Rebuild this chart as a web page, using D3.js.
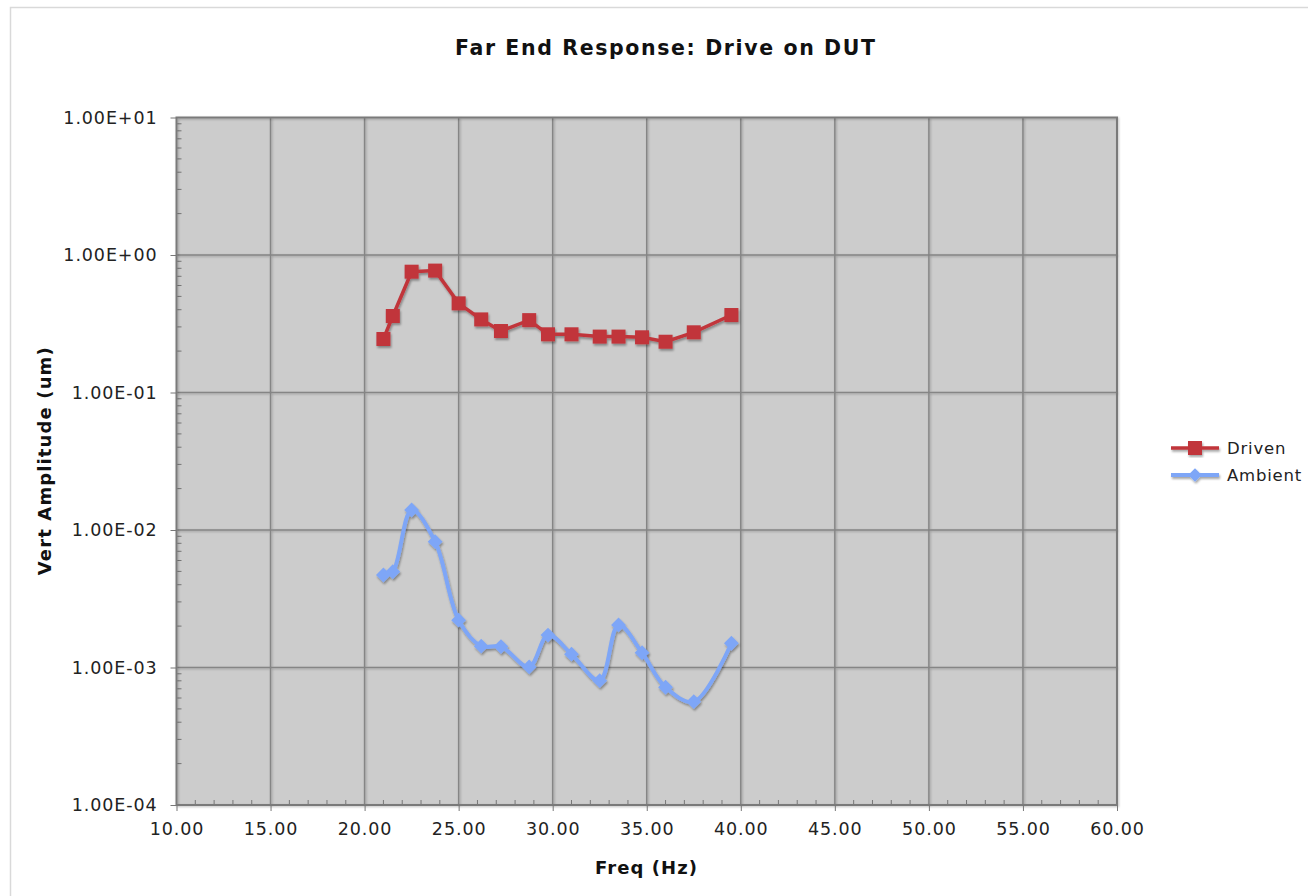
<!DOCTYPE html>
<html><head><meta charset="utf-8">
<script src="https://cdn.jsdelivr.net/npm/d3@7"></script>
<style>
html,body{margin:0;padding:0;background:#fff;}
svg{display:block;font-family:"DejaVu Sans",Verdana,sans-serif;}
</style></head>
<body><svg id="chart" width="1308" height="896"></svg>
<script>
const freq = [21.0, 21.5, 22.5, 23.75, 25.0, 26.2, 27.25, 28.75, 29.75, 31.0, 32.5, 33.5, 34.75, 36.0, 37.5, 39.5];
const driven = [0.245, 0.36, 0.756, 0.77, 0.445, 0.34, 0.28, 0.336, 0.265, 0.265, 0.255, 0.255, 0.252, 0.234, 0.274, 0.366];
const ambient = [0.00471, 0.00497, 0.01397, 0.00822, 0.00221, 0.00143, 0.00142, 0.00101, 0.00172, 0.00125, 0.000802, 0.00204, 0.00128, 0.000718, 0.000564, 0.0015];
const xTicks = [10, 15, 20, 25, 30, 35, 40, 45, 50, 55, 60];
const yTicks = [1e-4, 1e-3, 1e-2, 1e-1, 1, 10];
const yTickLabels = ["1.00E-04", "1.00E-03", "1.00E-02", "1.00E-01", "1.00E+00", "1.00E+01"];
const seriesNames = ["Driven", "Ambient"];
const seriesColors = ["#c1353b", "#7ea6f7"];

const svg = d3.select("#chart");
const L = 176.5, R = 1117, T = 117.5, B = 805;
const x = d3.scaleLinear().domain([10, 60]).range([L, R]);
const y = d3.scaleLog().domain([1e-4, 10]).range([B, T]);

const defs = svg.append("defs");
const f = defs.append("filter").attr("id", "sh").attr("x", "-20%").attr("y", "-20%").attr("width", "140%").attr("height", "140%");
f.append("feDropShadow").attr("dx", 1).attr("dy", 2).attr("stdDeviation", 1.2).attr("flood-color", "#000").attr("flood-opacity", 0.35);
const g2 = defs.append("filter").attr("id", "sh2").attr("x", "-5%").attr("y", "-5%").attr("width", "110%").attr("height", "110%");
g2.append("feDropShadow").attr("dx", 1).attr("dy", 1).attr("stdDeviation", 0.8).attr("flood-color", "#000").attr("flood-opacity", 0.25);

// outer frame
svg.append("rect").attr("x", 10.5).attr("y", 7.5).attr("width", 1320).attr("height", 900)
  .attr("fill", "#fff").attr("stroke", "#d9d9d9").attr("stroke-width", 1.5);

// plot background
svg.append("rect").attr("x", L).attr("y", T).attr("width", R - L).attr("height", B - T).attr("fill", "#cccccc");

// grid
const grid = svg.append("g").attr("stroke", "#858585").attr("stroke-width", 1.5).attr("filter", "url(#sh2)");
grid.selectAll(".gx").data(xTicks.slice(1, -1)).join("line")
  .attr("x1", d => x(d)).attr("x2", d => x(d)).attr("y1", T).attr("y2", B);
grid.selectAll(".gy").data(yTicks.slice(1, -1)).join("line")
  .attr("y1", d => y(d)).attr("y2", d => y(d)).attr("x1", L).attr("x2", R);

// minor ticks
const minorY = [];
for (let e = -4; e < 1; e++) for (let m = 2; m <= 9; m++) minorY.push(m * Math.pow(10, e));
svg.append("g").attr("stroke", "#777").attr("stroke-width", 1).selectAll("line").data(minorY).join("line")
  .attr("x1", L).attr("x2", L + 5).attr("y1", d => y(d)).attr("y2", d => y(d));
const minorX = d3.range(11, 60).filter(v => v % 5 !== 0);
svg.append("g").attr("stroke", "#777").attr("stroke-width", 1).selectAll("line").data(minorX).join("line")
  .attr("x1", d => x(d)).attr("x2", d => x(d)).attr("y1", B).attr("y2", B - 5);

// plot border
svg.append("rect").attr("x", L).attr("y", T).attr("width", R - L).attr("height", B - T)
  .attr("fill", "none").attr("stroke", "#7a7a7a").attr("stroke-width", 2).attr("filter", "url(#sh2)");

// axes
const xAxis = d3.axisBottom(x).tickValues(xTicks).tickFormat(d3.format(".2f")).tickSize(6).tickPadding(12);
const gx = svg.append("g").attr("transform", `translate(0,${B})`).call(xAxis);
gx.select(".domain").remove();
gx.selectAll(".tick line").attr("stroke", "#777");
gx.selectAll("text").attr("font-size", 17.5).attr("fill", "#222").attr("letter-spacing", "0.9px")
  .attr("font-family", '"DejaVu Sans",Verdana,sans-serif');

const yAxis = d3.axisLeft(y).tickValues(yTicks).tickFormat((d, i) => yTickLabels[i]).tickSize(6).tickPadding(13);
const gy = svg.append("g").attr("transform", `translate(${L},0)`).call(yAxis);
gy.select(".domain").remove();
gy.selectAll(".tick line").attr("stroke", "#777");
gy.selectAll("text").attr("font-size", 17.5).attr("fill", "#222").attr("letter-spacing", "0.9px")
  .attr("font-family", '"DejaVu Sans",Verdana,sans-serif');

// series
const dData = freq.map((f, i) => [f, driven[i]]);
const aData = freq.map((f, i) => [f, ambient[i]]);
const line = d3.line().x(d => x(d[0])).y(d => y(d[1]));
const sline = d3.line().x(d => x(d[0])).y(d => y(d[1])).curve(d3.curveCatmullRom.alpha(0.5));

const gd = svg.append("g").attr("filter", "url(#sh)");
gd.append("path").datum(dData).attr("d", line).attr("fill", "none").attr("stroke", seriesColors[0]).attr("stroke-width", 3.5);
gd.selectAll("rect").data(dData).join("rect")
  .attr("x", d => x(d[0]) - 7).attr("y", d => y(d[1]) - 7).attr("width", 14).attr("height", 14).attr("fill", seriesColors[0]);

const ga = svg.append("g").attr("filter", "url(#sh)");
ga.append("path").datum(aData).attr("d", sline).attr("fill", "none").attr("stroke", seriesColors[1]).attr("stroke-width", 4);
ga.selectAll("path.m").data(aData).join("path").attr("class", "m")
  .attr("d", d3.symbol().type(d3.symbolSquare).size(110))
  .attr("transform", d => `translate(${x(d[0])},${y(d[1])}) rotate(45)`)
  .attr("fill", seriesColors[1]);

// title & labels
svg.append("text").attr("x", 665).attr("y", 55).attr("text-anchor", "middle")
  .attr("font-size", 20.5).attr("font-weight", "bold").attr("fill", "#111")
  .attr("textLength", 420).attr("lengthAdjust", "spacing").text("Far End Response: Drive on DUT");
svg.append("text").attr("x", 646).attr("y", 874).attr("text-anchor", "middle")
  .attr("font-size", 18).attr("font-weight", "bold").attr("fill", "#111")
  .attr("textLength", 102).attr("lengthAdjust", "spacing").text("Freq (Hz)");
svg.append("text").attr("transform", `translate(51,${(T + B) / 2}) rotate(-90)`).attr("text-anchor", "middle")
  .attr("font-size", 18).attr("font-weight", "bold").attr("fill", "#111")
  .attr("textLength", 228).attr("lengthAdjust", "spacing").text("Vert Amplitude (um)");

// legend
const leg = svg.append("g");
seriesNames.forEach((n, i) => {
  const yy = 448 + i * 27;
  const gl = leg.append("g").attr("filter", "url(#sh)");
  gl.append("line").attr("x1", 1171).attr("x2", 1219).attr("y1", yy).attr("y2", yy)
    .attr("stroke", seriesColors[i]).attr("stroke-width", i === 0 ? 3.5 : 4);
  if (i === 0) gl.append("rect").attr("x", 1188).attr("y", yy - 7).attr("width", 14).attr("height", 14).attr("fill", seriesColors[i]);
  else gl.append("path").attr("d", d3.symbol().type(d3.symbolSquare).size(90)).attr("transform", `translate(1195,${yy}) rotate(45)`).attr("fill", seriesColors[i]);
  leg.append("text").attr("x", 1227).attr("y", yy + 6).attr("font-size", 16.5).attr("fill", "#222").attr("letter-spacing", "0.8px").text(n);
});
</script></body></html>
